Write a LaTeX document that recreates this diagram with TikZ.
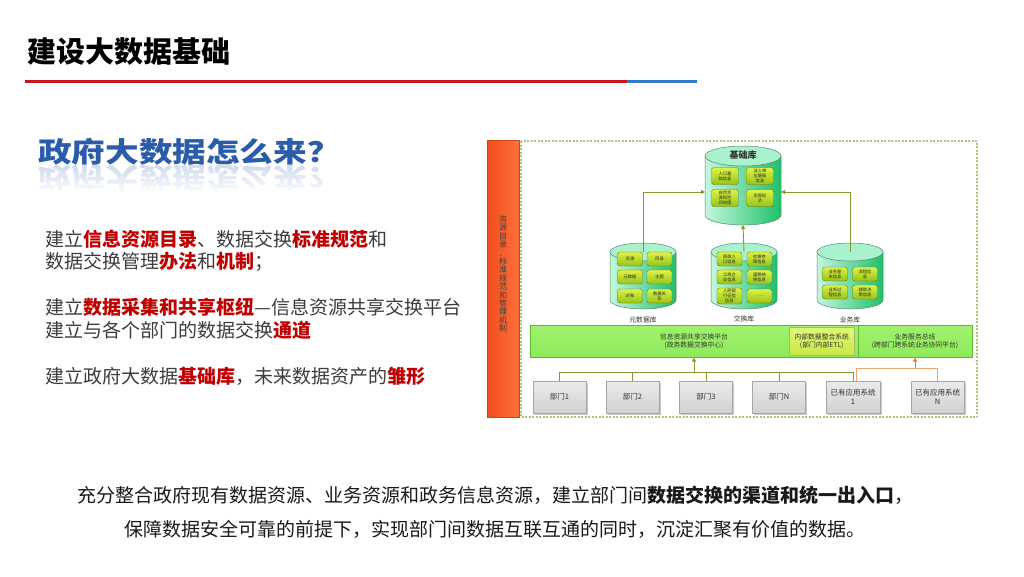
\documentclass[tikz,border=0pt]{standalone}
\usepackage{fontspec}
\setmainfont{Noto Sans CJK SC}
\usetikzlibrary{arrows.meta,fadings,shadows}
\definecolor{hlred}{HTML}{C00000}
\definecolor{headblue}{HTML}{2A5CAA}
\definecolor{linered}{HTML}{C8161E}
\definecolor{lineblue}{HTML}{2F7CC8}
\definecolor{txtgray}{HTML}{3C3C3C}
\definecolor{cylL}{HTML}{C2F7DC}
\definecolor{cylR}{HTML}{1FBF6A}
\definecolor{cylT}{HTML}{AAF2CE}
\definecolor{cylE}{HTML}{5A8A6A}
\definecolor{olive}{HTML}{7F9A2E}
\definecolor{orln}{HTML}{F4A468}
\definecolor{orar}{HTML}{E8762A}
\definecolor{platG}{HTML}{8EEA5A}
\definecolor{platE}{HTML}{5CB82C}
\definecolor{frameC}{HTML}{B8C078}
\newcommand\hl[1]{{\color{hlred}\bfseries #1}}
\newcommand\mycyl[6]{% name, cx, ytop, ybot, halfw, ry
  \path[left color=cylL, right color=cylR, draw=cylE, line width=0.5]
    ({#2-#5},{#3+#6}) -- ({#2-#5},{#4-#6})
    arc[start angle=180,end angle=0,x radius=#5,y radius=#6]
    -- ({#2+#5},{#3+#6}) -- cycle;
  \path[fill=cylT, draw=cylE, line width=0.5] (#2,{#3+#6}) ellipse[x radius=#5, y radius=#6];
  \coordinate (#1-top) at (#2,{#3+#6});
  \node[inner sep=0, outer sep=0, minimum width={2*#5}, minimum height={#4-#3}] (#1) at (#2,{(#3+#4)/2}) {};
}
\begin{document}
\begin{tikzpicture}[x=1pt,y=-1pt,
  innerbox/.style={draw=olive!80!black, line width=0.4, rounded corners=2.5pt,
    top color={rgb,255:red,222;green,242;blue,70},
    bottom color={rgb,255:red,150;green,196;blue,24},
    minimum width=25, minimum height=14, inner sep=0.5,
    font=\fontsize{4.3}{4.8}\selectfont, align=center, text=black!85},
  dept/.style={draw=black!35, line width=0.5, top color=black!8, bottom color=black!18,
    minimum width=53, minimum height=32, inner sep=1, align=center,
    font=\fontsize{7.5}{9.5}\selectfont, text=black!80,
    drop shadow={shadow xshift=1.5pt, shadow yshift=-1.5pt, fill=black!35, opacity=.6}},
  difont/.style={font=\fontsize{6.8}{8.2}\selectfont, text=black!80, align=center},
  oline/.style={draw=olive, line width=0.9},
  oarrow/.style={oline, -{Triangle[length=4pt,width=4pt]}},
  orline/.style={draw=orln, line width=0.9},
  orarrow/.style={draw=orar, line width=0.9, -{Triangle[length=4pt,width=4pt]}},
  lefttext/.style={anchor=west, inner sep=0, font=\fontsize{19}{23}\selectfont, text=txtgray},
  bottomtext/.style={font=\fontsize{19}{23}\selectfont, text=black!90}
]
\useasboundingbox (0,0) rectangle (1024,576);
\fill[white] (0,0) rectangle (1024,576);

% title and rule
\node[anchor=west, font=\fontsize{29}{32}\selectfont\bfseries, text=black] (title) at (24,52) {建设大数据基础};
\fill[linered] (25,80) rectangle (627,83);
\fill[lineblue] (627,80) rectangle (697,83);

% heading with reflection
\node[anchor=west, inner sep=0, text=headblue, font=\fontsize{28}{30}\selectfont\bfseries, xscale=1.2] (head) at (38,152) {政府大数据怎么来？};
\node[anchor=west, inner sep=0, text=headblue!70, opacity=0.3, font=\fontsize{28}{30}\selectfont\bfseries, xscale=1.2, yscale=-1] (headrefl) at (38,178) {政府大数据怎么来？};
\fill[white, path fading=north] (28,166) rectangle (345,194);

% left text
\node[lefttext] (l1) at (45,239) {建立\hl{信息资源目录}、数据交换\hl{标准规范}和};
\node[lefttext] (l2) at (45,262) {数据交换管理\hl{办法}和\hl{机制}；};
\node[lefttext] (l3) at (45,307) {建立\hl{数据采集和共享枢纽}—信息资源共享交换平台};
\node[lefttext] (l4) at (45,330) {建立与各个部门的数据交换\hl{通道}};
\node[lefttext] (l5) at (45,376) {建立政府大数据\hl{基础库}，未来数据资产的\hl{雏形}};

% bottom text
\node[bottomtext] (b1) at (495,495) {充分整合政府现有数据资源、业务资源和政务信息资源，建立部门间{\bfseries 数据交换的渠道和统一出入口}，};
\node[bottomtext] (b2) at (495,529) {保障数据安全可靠的前提下，实现部门间数据互联互通的同时，沉淀汇聚有价值的数据。};

% ===== diagram =====
\node[anchor=north west, minimum width=32, minimum height=277, inner sep=0,
      left color={rgb,255:red,238;green,78;blue,28}, right color={rgb,255:red,255;green,112;blue,58},
      draw={rgb,255:red,210;green,70;blue,20}, line width=0.4] (bar) at (487,140) {};
\node[font=\fontsize{8}{8.4}\selectfont, text=black!75, align=center] (bartext) at (bar.center |- 0,274)
  {资\\源\\目\\录\\、\\标\\准\\规\\范\\和\\管\\理\\机\\制};
\draw[frameC, line width=1.1, dash pattern=on 2pt off 1.5pt] (521,141) rectangle (977,417);

% cylinders
\mycyl{jichu}{743}{146}{225}{38}{10}
\mycyl{yuan}{643}{243}{309}{33}{9}
\mycyl{jh}{744}{243}{309}{33}{9}
\mycyl{yw}{850}{243}{309}{33}{9}

\node[font=\fontsize{9}{10}\selectfont\bfseries, text=black!80] (jichulabel) at (743,155) {基础库};
\node[innerbox, minimum width=27, minimum height=17] (j1) at (725,176) {人口基\\础信息};
\node[innerbox, minimum width=27, minimum height=17] (j2) at (760,176) {法人单\\位基础\\信息};
\node[innerbox, minimum width=27, minimum height=17] (j3) at (725,198) {自然资\\源和空\\间地理};
\node[innerbox, minimum width=27, minimum height=17] (j4) at (760,198) {宏观经\\济};

\node[innerbox] (y1) at (630,259) {资源};
\node[innerbox] (y2) at (659.5,259) {目录};
\node[innerbox] (y3) at (630,277) {元数据};
\node[innerbox] (y4) at (659.5,277) {主题};
\node[innerbox] (y5) at (630,296) {对象};
\node[innerbox] (y6) at (659.5,296) {数据关\\系};

\node[innerbox] (h1) at (729.5,259) {民政人\\口信息};
\node[innerbox] (h2) at (759.5,259) {社保参\\保信息};
\node[innerbox] (h3) at (729.5,277) {工商企\\业信息};
\node[innerbox] (h4) at (759.5,277) {国税纳\\税信息};
\node[innerbox, minimum height=16] (h5) at (729.5,296) {人民银\\行征信\\信息};
\node[innerbox] (h6) at (759.5,296) {……};

\node[innerbox] (w1) at (835,274) {业务基\\本信息};
\node[innerbox] (w2) at (865,274) {流程信\\息};
\node[innerbox] (w3) at (835,292) {业务过\\程信息};
\node[innerbox] (w4) at (865,292) {辅助决\\策信息};

\node[difont] (yuanlabel) at (643,320) {元数据库};
\node[difont] (jhlabel) at (744,319) {交换库};
\node[difont] (ywlabel) at (850,320) {业务库};

% connectors to base library
\coordinate (jy) at (0,192);
\draw[oarrow] (yuan-top) |- (jichu.west |- jy);
\draw[oarrow] (jh-top) -- (jichu.south);
\draw[oarrow] (yw-top) |- (jichu.east |- jy);

% platform
\node[anchor=north west, minimum width=442, minimum height=32, inner sep=0,
      top color={rgb,255:red,160;green,242;blue,110}, bottom color=platG, draw=platE, line width=0.6] (plat) at (530,325) {};
\draw[platE, line width=0.6] (858,325) -- (858,357);
\node[anchor=north west, minimum width=65, minimum height=28, inner sep=0,
      top color={rgb,255:red,228;green,248;blue,120}, bottom color={rgb,255:red,200;green,232;blue,70},
      draw=olive!70, line width=0.5, drop shadow={shadow xshift=1pt, shadow yshift=-1pt, fill=black!30, opacity=.5}] (etl) at (789,327) {};
\node[difont] (etltext) at (etl.center) {内部数据整合系统\\(部门内部ETL)};
\node[difont] (plattext) at (694,341) {信息资源共享交换平台\\(政务数据交换中心)};
\node[difont] (bustext) at (915,341) {业务服务总线\\(跨部门跨系统业务协同平台)};

% departments
\node[dept] (d1) at (559.5,397) {部门1};
\node[dept] (d2) at (632.5,397) {部门2};
\node[dept] (d3) at (706,397) {部门3};
\node[dept] (d4) at (779,397) {部门N};
\node[dept, minimum width=54] (d5) at (853,397) {已有应用系统\\1};
\node[dept] (d6) at (937.5,397) {已有应用系统\\N};

\coordinate (busy) at (0,372);
\coordinate (pa) at (694,372);
\draw[oline] (d1.north) -- (d1.north |- busy) -- (d5.north |- busy) -- (d5.north);
\foreach \d in {d2,d3,d4} { \draw[oline] (\d.north) -- (\d.north |- busy); }
\draw[oarrow] (pa) -- (pa |- plat.south);

\coordinate (oy) at (0,368);
\coordinate (ob) at (915,368);
\draw[orline] ([xshift=3pt]d5.north) -- ([xshift=3pt]d5.north |- oy) -- (d6.north |- oy) -- (d6.north);
\draw[orarrow] (ob) -- (ob |- plat.south);
\end{tikzpicture}
\end{document}
